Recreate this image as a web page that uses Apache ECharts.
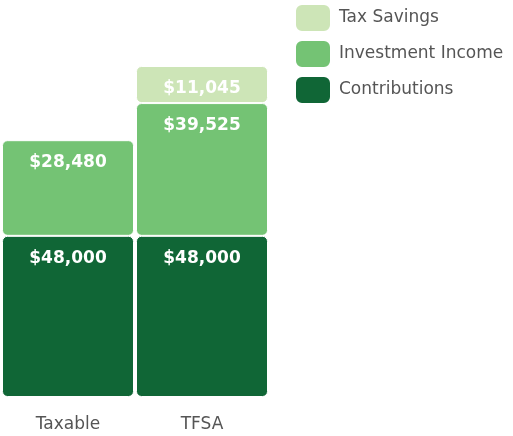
<!DOCTYPE html>
<html>
<head>
<meta charset="utf-8">
<script src="https://cdn.jsdelivr.net/npm/echarts@6/dist/echarts.min.js"></script>
<style>
    html, body { margin: 0; padding: 0; background: #fff; }
    #main { width: 513px; height: 436px; }
</style>
</head>
<body>
<div id="main"></div>
<script>
/*账户类型*/
var accounts = ['Taxable', 'TFSA'];
/*各部分金额*/
var contributions = [48000, 48000];
var investmentIncome = [28480, 39525];
var taxSavings = [null, 11045];

var fontName = '"DejaVu Sans", "Open Sans", sans-serif';

function money(p) {
    if (p.value == null) return '';
    return '$' + Number(p.value).toLocaleString('en-US');
}

function segment(name, data, color) {
    return {
        name: name,
        type: 'bar',
        stack: 'total',
        data: data,
        barWidth: 132,
        itemStyle: {
            color: color,
            borderRadius: 5,
            borderColor: '#fff',
            borderWidth: 1
        },
        label: {
            show: true,
            position: 'insideTop',
            distance: 14,
            color: '#fff',
            fontFamily: fontName,
            fontWeight: 'bold',
            fontSize: 17,
            formatter: money
        }
    };
}

var myChart = echarts.init(document.getElementById('main'));
var option = {
    animation: false,
    legend: {
        orient: 'vertical',
        left: 294,
        top: 3,
        padding: 0,
        itemWidth: 36,
        itemHeight: 28,
        itemGap: 6,
        icon: 'roundRect',
        data: ['Tax Savings', 'Investment Income', 'Contributions'],
        textStyle: { fontFamily: fontName, fontSize: 17, color: '#555', padding: [0, 0, 0, 3] }
    },
    grid: {
        left: 1,
        width: 268,
        top: 66,
        bottom: 39
    },
    xAxis: {
        type: 'category',
        data: accounts,
        axisLine: { show: false },
        axisTick: { show: false },
        axisLabel: { margin: 19, fontFamily: fontName, fontSize: 17, color: '#555' }
    },
    yAxis: {
        type: 'value',
        max: 'dataMax',
        show: false,
        splitLine: { show: false }
    },
    series: [
        segment('Contributions', contributions, '#106636'),
        segment('Investment Income', investmentIncome, '#74c374'),
        segment('Tax Savings', taxSavings, '#cde5b7')
    ]
};
myChart.setOption(option);
</script>
</body>
</html>
